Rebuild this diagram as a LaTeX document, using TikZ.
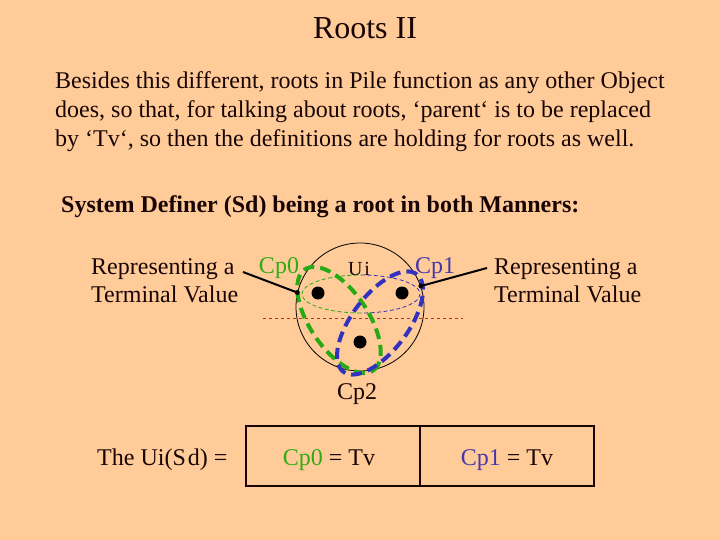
\documentclass[tikz,border=0pt]{standalone}
\usepackage{fontspec}
\setmainfont{Liberation Serif}
\usetikzlibrary{shapes.geometric}
\definecolor{bg}{RGB}{255,204,153}
\definecolor{ink}{RGB}{25,5,5}
\definecolor{cpgreen}{RGB}{50,170,20}
\definecolor{cpblue}{RGB}{70,55,170}
\definecolor{dashgreen}{RGB}{40,170,20}
\definecolor{dashblue}{RGB}{50,50,190}
\definecolor{dashred}{RGB}{190,50,20}
\begin{document}
\begin{tikzpicture}[x=1pt,y=-1pt,
  txt/.style={font=\fontsize{24}{29}\selectfont, text=ink, inner sep=0pt},
  dotnode/.style={circle, fill=black, minimum size=13pt, inner sep=0pt},
  thickdash/.style={draw, ellipse, line width=4pt, dash pattern=on 11pt off 6pt, inner sep=0pt},
  thindash/.style={line width=0.8pt, dash pattern=on 4pt off 2.5pt},
  cell/.style={draw=ink, line width=1.2pt, minimum width=174pt, minimum height=60pt, inner sep=0pt, text height=18pt, text depth=0pt, font=\fontsize{24}{29}\selectfont},
  conn/.style={draw=black, line width=2pt}]
\fill[bg] (0,0) rectangle (720,540);
\useasboundingbox (0,0) rectangle (720,540);

\node[txt, font=\fontsize{32}{38}\selectfont, anchor=base] (title) at (365,39) {Roots II};
\node[txt, anchor=base west] (p1) at (55,89) {Besides this different, roots in Pile function as any other Object};
\node[txt, anchor=base west] (p2) at (55,118) {does, so that, for talking about roots, ‘parent‘ is to be replaced};
\node[txt, anchor=base west] (p3) at (55,147) {by ‘Tv‘, so then the definitions are holding for roots as well.};
\node[txt, font=\fontsize{24}{29}\selectfont\bfseries, anchor=base west] (sd) at (61,213) {System Definer (Sd) being a root in both Manners:};

\node[txt, anchor=base west] (l1) at (91,274) {Representing a};
\node[txt, anchor=base west] (l2) at (91,302) {Terminal Value};
\node[txt, anchor=base west] (r1) at (494,274) {Representing a};
\node[txt, anchor=base west] (r2) at (494,302) {Terminal Value};

\node[txt, text=cpgreen, anchor=base] (cp0) at (279,273) {Cp0};
\node[txt, text=cpblue, anchor=base] (cp1) at (435,273) {Cp1};
\node[txt, font=\fontsize{20}{24}\selectfont, anchor=base] (uilab) at (359,275) {U\kern2pt i};
\node[txt, anchor=base] (cp2) at (357,399) {Cp2};

% dashed separator
\coordinate (sepl) at (263,318);
\coordinate (sepr) at (463,318);
\draw[dashred, dashed, line width=0.8pt] (sepl) -- (sepr);

% big circle
\node[circle, draw=black, line width=0.8pt, minimum size=128pt, inner sep=0pt] (ui) at (360,307) {};

% thin Ui ellipse (green left half, blue right half)
\draw[dashgreen, thindash] (361,313) arc[start angle=90, end angle=270, x radius=59, y radius=19];
\draw[dashblue, thindash] (361,275) arc[start angle=270, end angle=450, x radius=59, y radius=19];

% thick dashed ellipses
\node[thickdash, draw=dashgreen, minimum width=122pt, minimum height=58pt, rotate=-56] (eg) at (339,320) {};
\node[thickdash, draw=dashblue, minimum width=122pt, minimum height=56pt, rotate=53] (eb) at (380,323) {};

% dots
\node[dotnode] (d0) at (318,293) {};
\node[dotnode] (d1) at (402,293) {};
\node[dotnode] (d2) at (360,342) {};

% connectors
\coordinate (lstart) at (243,272);
\coordinate (rstart) at (487,268);
\draw[conn] (lstart) -- (ui.167);
\draw[conn] (rstart) -- (ui.19);
\fill (ui.167) circle (2.5pt);
\fill (ui.19) circle (2.5pt);

% bottom row
\node[txt, anchor=base west] (eq) at (97,465) {The Ui(S\kern2pt d)\kern6pt =};
\node[cell, text=cpgreen] (b0) at (333,456) {\kern-8pt Cp0 \textcolor{ink}{= Tv}};
\node[cell, text=cpblue] (b1) at (507,456) {Cp1 \textcolor{ink}{= Tv}};
\end{tikzpicture}
\end{document}
